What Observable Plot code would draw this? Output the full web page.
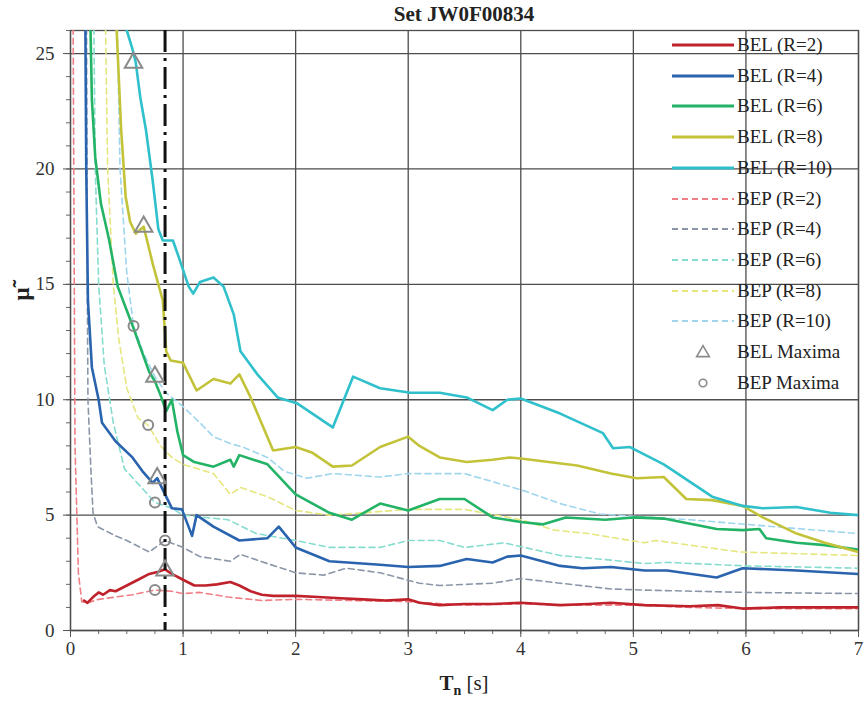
<!DOCTYPE html>
<html>
<head>
<meta charset="utf-8">
<script src="https://cdn.jsdelivr.net/npm/d3@7"></script>
<script src="https://cdn.jsdelivr.net/npm/@observablehq/plot@0.6"></script>
<style>
  body { margin: 0; background: #fff; }
  #chart { position: relative; width: 867px; height: 711px; font-family: "Liberation Serif", "Times New Roman", serif; color: #222; }
  #chart > svg { position: absolute; left: 0; top: 0; }
  #title { position: absolute; left: 70px; width: 788px; top: 2px; text-align: center; font-weight: bold; font-size: 21px; }
  #xlabel { position: absolute; left: 70px; width: 788px; top: 671px; text-align: center; font-size: 21px; }
  #xlabel sub { font-size: 14px; }
  #ylabel { position: absolute; left: 8px; top: 280px; width: 28px; height: 28px; line-height: 28px; text-align: center;
            font-size: 23px; font-weight: bold; transform: rotate(-90deg); }
  #legend { position: absolute; left: 672px; top: 30px; }
  #legend .row { position: absolute; left: 0; height: 30px; width: 195px; display: flex; align-items: center; font-size: 19px; white-space: nowrap; }
  #legend .row svg { display: block; margin-right: 3px; flex: none; }
</style>
</head>
<body>
<div id="chart">
  <div id="title">Set JW0F00834</div>
  <div id="xlabel"><b>T</b><sub><b>n</b></sub> [s]</div>
  <div id="ylabel">μ̃</div>
  <div id="legend"></div>
</div>
<script>
// Ductility demand spectra (period T in s, ductility μ)
const belR2 = [[0.12,1.3],[0.15,1.2],[0.2,1.45],[0.25,1.65],[0.29,1.55],[0.35,1.75],[0.4,1.7],[0.5,1.95],[0.6,2.2],[0.7,2.45],[0.78,2.55],[0.84,2.65],[0.9,2.45],[1.0,2.2],[1.1,1.95],[1.2,1.95],[1.3,2.0],[1.42,2.1],[1.5,1.95],[1.6,1.7],[1.7,1.55],[1.8,1.5],[2.0,1.5],[2.2,1.45],[2.4,1.4],[2.6,1.35],[2.8,1.3],[3.0,1.35],[3.1,1.2],[3.28,1.1],[3.5,1.15],[3.75,1.15],[4.0,1.2],[4.35,1.1],[4.6,1.15],[4.8,1.2],[5.1,1.1],[5.5,1.05],[5.75,1.1],[5.97,0.95],[6.3,1.0],[7.0,1.0]];
const belR4 = [[0.13,28],[0.14,20],[0.155,14.3],[0.19,11.4],[0.25,10],[0.28,9.0],[0.4,8.2],[0.55,7.5],[0.64,6.9],[0.73,6.4],[0.77,6.6],[0.84,5.9],[0.9,5.3],[0.99,5.25],[1.08,4.1],[1.12,5.0],[1.27,4.5],[1.5,3.9],[1.75,4.0],[1.85,4.5],[2.0,3.6],[2.3,3.0],[2.75,2.85],[3.0,2.75],[3.28,2.8],[3.52,3.1],[3.75,2.95],[3.88,3.2],[4.0,3.25],[4.35,2.8],[4.55,2.7],[4.8,2.75],[5.1,2.6],[5.3,2.6],[5.74,2.3],[5.97,2.7],[6.45,2.6],[7.0,2.45]];
const belR6 = [[0.17,28],[0.19,23],[0.22,20.5],[0.27,18.5],[0.34,17.0],[0.42,14.9],[0.49,14.0],[0.56,13.1],[0.64,12.0],[0.7,11.2],[0.75,10.8],[0.8,10.2],[0.85,9.5],[0.9,10.0],[0.95,8.6],[1.0,7.6],[1.1,7.3],[1.27,7.1],[1.42,7.4],[1.45,7.1],[1.5,7.6],[1.75,7.2],[2.0,5.9],[2.3,5.1],[2.5,4.8],[2.75,5.5],[3.0,5.2],[3.28,5.7],[3.5,5.7],[3.75,4.9],[4.0,4.7],[4.2,4.6],[4.4,4.9],[4.75,4.8],[5.0,4.9],[5.27,4.85],[5.74,4.4],[5.97,4.35],[6.12,4.4],[6.18,4.0],[6.45,3.8],[6.7,3.7],[7.0,3.5]];
const belR8 = [[0.39,28],[0.41,26],[0.45,21.7],[0.49,18.8],[0.53,17.7],[0.58,17.2],[0.65,17.5],[0.73,15.9],[0.82,14.3],[0.85,12.1],[0.89,11.7],[1.0,11.6],[1.12,10.4],[1.27,10.9],[1.42,10.7],[1.5,11.1],[1.6,10.1],[1.8,7.8],[2.0,7.95],[2.15,7.7],[2.33,7.1],[2.5,7.15],[2.75,7.95],[3.0,8.4],[3.1,8.0],[3.28,7.5],[3.52,7.3],[3.75,7.4],[3.9,7.5],[4.0,7.45],[4.5,7.15],[4.8,6.8],[5.03,6.6],[5.27,6.65],[5.47,5.7],[5.7,5.65],[5.97,5.4],[6.15,4.9],[6.45,4.2],[6.7,3.8],[7.0,3.4]];
const belR10 = [[0.47,28],[0.5,26],[0.55,25.2],[0.58,24.6],[0.62,23.1],[0.67,21.7],[0.73,19.5],[0.78,17.4],[0.82,16.9],[0.91,16.9],[0.96,16.2],[1.05,14.9],[1.09,14.6],[1.15,15.1],[1.27,15.3],[1.36,14.9],[1.45,13.7],[1.51,12.1],[1.66,11.1],[1.84,10.1],[2.01,9.85],[2.33,8.8],[2.51,11.0],[2.75,10.5],[3.02,10.3],[3.28,10.3],[3.52,10.1],[3.75,9.55],[3.88,10.0],[4.0,10.05],[4.35,9.4],[4.73,8.55],[4.82,7.9],[4.97,7.95],[5.27,7.2],[5.7,5.8],[5.97,5.4],[6.15,5.3],[6.45,5.35],[6.75,5.1],[7.0,5.0]];

const bepR2 = [[0.02,30],[0.04,8],[0.07,2.5],[0.1,1.25],[0.15,1.2],[0.25,1.35],[0.4,1.45],[0.55,1.55],[0.75,1.75],[0.9,1.7],[1.0,1.6],[1.15,1.65],[1.4,1.45],[1.7,1.3],[2.0,1.35],[2.5,1.3],[3.0,1.25],[3.5,1.1],[4.0,1.15],[4.5,1.1],[5.0,1.1],[5.5,1.0],[6.0,0.95],[7.0,0.95]];
const bepR4 = [[0.14,30],[0.15,14.3],[0.155,10],[0.18,7.1],[0.2,5.1],[0.24,4.5],[0.4,4.1],[0.5,3.9],[0.7,3.4],[0.84,3.9],[1.0,3.6],[1.15,3.2],[1.42,3.0],[1.51,3.3],[1.75,2.9],[2.0,2.5],[2.25,2.4],[2.45,2.7],[2.75,2.5],[3.1,2.05],[3.28,1.95],[3.75,2.05],[4.0,2.25],[4.35,2.05],[4.8,1.8],[5.1,1.75],[6.0,1.65],[7.0,1.6]];
const bepR6 = [[0.2,30],[0.22,20],[0.25,15],[0.3,11.5],[0.38,9],[0.48,7.0],[0.63,6.2],[0.75,5.55],[0.9,5.3],[1.0,5.0],[1.2,4.9],[1.4,4.8],[1.65,4.2],[2.0,3.9],[2.3,3.6],[2.75,3.6],[3.0,3.9],[3.28,3.9],[3.5,3.6],[3.85,3.8],[4.35,3.25],[4.8,3.05],[5.1,2.9],[5.3,2.95],[6.0,2.8],[7.0,2.7]];
const bepR8 = [[0.3,30],[0.33,20],[0.38,15],[0.43,12.6],[0.5,10.5],[0.6,9.2],[0.69,8.9],[0.8,8.0],[0.9,7.5],[1.0,7.2],[1.27,6.8],[1.42,5.9],[1.51,6.2],[1.75,5.8],[2.0,5.2],[2.3,5.0],[2.6,5.1],[3.0,5.25],[3.5,5.25],[4.0,4.8],[4.3,4.35],[4.6,4.2],[5.1,3.8],[5.2,3.9],[5.5,3.7],[5.95,3.4],[7.0,3.25]];
const bepR10 = [[0.4,30],[0.44,20],[0.5,15.5],[0.56,13.2],[0.65,12.0],[0.75,11.0],[0.85,10.3],[1.0,9.7],[1.15,9.0],[1.27,8.4],[1.42,8.1],[1.53,7.95],[1.75,7.5],[1.9,6.9],[2.1,6.6],[2.33,6.8],[2.75,6.65],[3.0,6.8],[3.5,6.8],[4.0,6.1],[4.35,5.5],[4.7,5.05],[5.0,4.95],[5.5,4.8],[6.0,4.6],[6.5,4.4],[7.0,4.2]];

const belMaxima = [[0.56,24.6],[0.65,17.5],[0.75,11.0],[0.77,6.6],[0.84,2.6]];
const bepMaxima = [[0.56,13.2],[0.69,8.9],[0.75,5.55],[0.84,3.9],[0.75,1.75]];

const referencePeriod = [0.84];

const xTicks = [0, 1, 2, 3, 4, 5, 6, 7];
const yTicks = [0, 5, 10, 15, 20, 25];

// Line styles for each curve
const curves = [
  {label: "BEL (R=2)",  data: belR2,  color: "#c0222c", dash: null, width: 2.6},
  {label: "BEL (R=4)",  data: belR4,  color: "#2a64ae", dash: null, width: 2.6},
  {label: "BEL (R=6)",  data: belR6,  color: "#23b366", dash: null, width: 2.6},
  {label: "BEL (R=8)",  data: belR8,  color: "#c3c33a", dash: null, width: 2.6},
  {label: "BEL (R=10)", data: belR10, color: "#2fc0cc", dash: null, width: 2.6},
  {label: "BEP (R=2)",  data: bepR2,  color: "#ef7f86", dash: "6,4", width: 1.6},
  {label: "BEP (R=4)",  data: bepR4,  color: "#8b97a8", dash: "6,4", width: 1.6},
  {label: "BEP (R=6)",  data: bepR6,  color: "#86dccf", dash: "6,4", width: 1.6},
  {label: "BEP (R=8)",  data: bepR8,  color: "#e6e67e", dash: "6,4", width: 1.6},
  {label: "BEP (R=10)", data: bepR10, color: "#9fd6ee", dash: "6,4", width: 1.6}
];

const X = d => d[0], Y = d => d[1];
const gridColor = "#4d4d4d";

const lineMark = c => Plot.line(c.data, {
  x: X, y: Y, stroke: c.color, strokeWidth: c.width,
  strokeDasharray: c.dash, clip: true, curve: "linear"
});

const chart = Plot.plot({
  width: 867,
  height: 711,
  marginTop: 30,
  marginBottom: 81,
  marginLeft: 70,
  marginRight: 9,
  style: {fontFamily: "'Liberation Serif', 'Times New Roman', serif", fontSize: "19px", color: "#333", background: "transparent"},
  x: {domain: [0, 7]},
  y: {domain: [0, 26]},
  marks: [
    Plot.gridX(xTicks, {stroke: gridColor, strokeOpacity: 1, strokeWidth: 1.3}),
    Plot.gridY(yTicks, {stroke: gridColor, strokeOpacity: 1, strokeWidth: 1.3}),
    Plot.axisX(d3.range(0, 7.001, 0.25), {tickSize: 4, text: null, label: null, stroke: "#666"}),
    Plot.axisX(xTicks, {tickSize: 7, tickPadding: 4, label: null, stroke: "#555", fill: "#333"}),
    Plot.axisY(d3.range(0, 27, 1), {tickSize: 4, text: null, label: null, stroke: "#666"}),
    Plot.axisY(yTicks, {tickSize: 7, tickPadding: 9, label: null, stroke: "#555", fill: "#333"}),
    Plot.frame({stroke: gridColor, strokeWidth: 1.3}),
    ...curves.filter(c => c.dash).map(lineMark),
    ...curves.filter(c => !c.dash).map(lineMark),
    Plot.ruleX(referencePeriod, {stroke: "#111", strokeWidth: 3, strokeDasharray: "22,6,3,6"}),
    Plot.dot(belMaxima, {x: X, y: Y, symbol: "triangle", r: 6.5, stroke: "#8a8a8a", strokeWidth: 2, fill: "none"}),
    Plot.dot(bepMaxima, {x: X, y: Y, symbol: "circle", r: 5, stroke: "#8a8a8a", strokeWidth: 2, fill: "none"})
  ]
});
document.getElementById("chart").prepend(chart);

// Legend
const legend = document.getElementById("legend");
const rowStep = 30.7;
const legendItems = [
  ...curves.map(c => ({label: c.label, kind: "line", color: c.color, dash: c.dash, width: c.dash ? 1.8 : 3})),
  {label: "BEL Maxima", kind: "triangle"},
  {label: "BEP Maxima", kind: "circle"}
];
legendItems.forEach((item, i) => {
  const row = document.createElement("div");
  row.className = "row";
  row.style.top = (i * rowStep) + "px";
  let sw;
  if (item.kind === "line") {
    sw = `<svg width="62" height="10"><line x1="0" x2="62" y1="5" y2="5" stroke="${item.color}" stroke-width="${item.width}" ${item.dash ? `stroke-dasharray="${item.dash}"` : ""}/></svg>`;
  } else if (item.kind === "triangle") {
    sw = `<svg width="62" height="16"><path d="${d3.symbol(d3.symbolTriangle, 70)()}" transform="translate(31,9)" fill="none" stroke="#8a8a8a" stroke-width="1.6"/></svg>`;
  } else {
    sw = `<svg width="62" height="16"><circle cx="31" cy="8" r="3.8" fill="none" stroke="#8a8a8a" stroke-width="1.6"/></svg>`;
  }
  row.innerHTML = sw + `<span>${item.label}</span>`;
  legend.appendChild(row);
});
</script>
</body>
</html>
